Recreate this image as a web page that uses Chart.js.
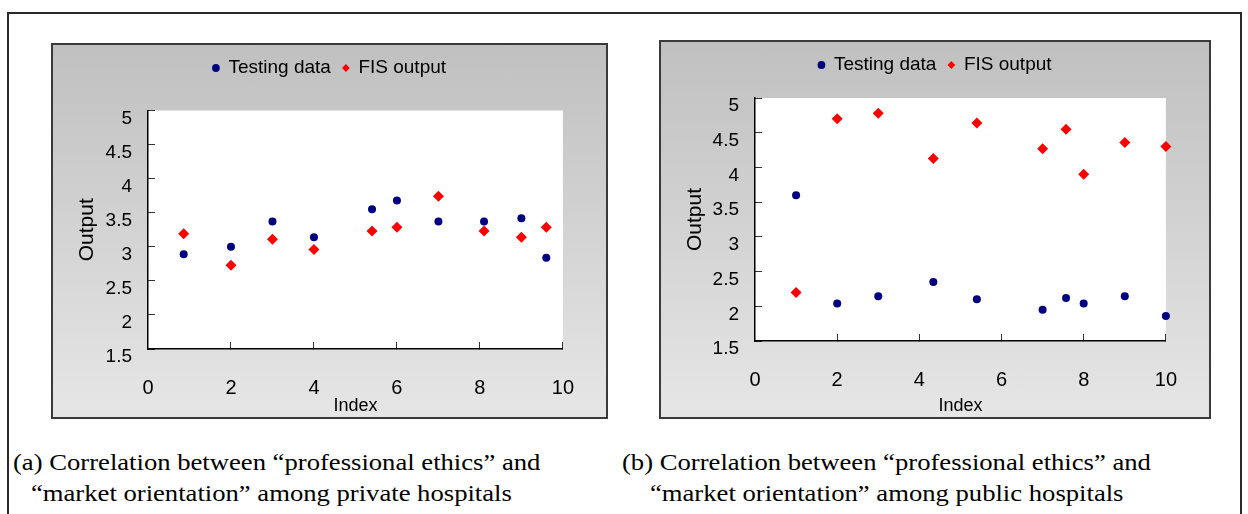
<!DOCTYPE html>
<html>
<head>
<meta charset="utf-8">
<script src="https://cdn.jsdelivr.net/npm/chart.js@4.4.1/dist/chart.umd.min.js"></script>
<style>
  body { margin: 0; background: #fff; width: 1248px; height: 514px; overflow: hidden; position: relative; }
  .frame { position: absolute; left: 7px; top: 12px; width: 1231px; height: 520px; border: 2px solid #2a2a2a; border-bottom: none; }
  .panel { position: absolute; box-sizing: border-box; border: 2px solid #3a3a3a; background: linear-gradient(#c0c0c0, #e6e6e6); }
  canvas { position: absolute; }
  .cap { position: absolute; font-family: "Liberation Serif", "Times New Roman", serif; font-size: 24px; line-height: 31px;
         color: #000; white-space: nowrap; transform: scaleX(1.11); transform-origin: 0 0; }
</style>
</head>
<body>
<div class="frame"></div>

<div class="panel" style="left:51px; top:43px; width:557px; height:376px;"></div>
<canvas id="chartA" width="557" height="383" style="left:51px; top:36px;"></canvas>

<div class="panel" style="left:659px; top:40px; width:552px; height:379px;"></div>
<canvas id="chartB" width="552" height="386" style="left:659px; top:33px;"></canvas>

<div class="cap" style="left:13px; top:447px;">(a) Correlation between “professional ethics” and</div>
<div class="cap" style="left:31px; top:478px;">“market orientation” among private hospitals</div>
<div class="cap" style="left:622px; top:447px;">(b) Correlation between “professional ethics” and</div>
<div class="cap" style="left:650px; top:478px;">“market orientation” among public hospitals</div>

<script>
// Two scatter panels: testing data vs FIS output, private (a) and public (b) hospitals.

const seriesNames = ["Testing data", "FIS output"];

// (a) private hospitals
const privIndex   = [0.86, 2, 3, 4, 5.4, 6, 7, 8.1, 9, 9.6];
const privTesting = [2.89, 3.0, 3.37, 3.14, 3.55, 3.68, 3.37, 3.37, 3.42, 2.84];
const privFis     = [3.19, 2.73, 3.11, 2.96, 3.23, 3.285, 3.74, 3.23, 3.14, 3.285];

// (b) public hospitals
const pubIndex   = [1, 2, 3, 4.34, 5.4, 7, 7.57, 8, 9, 10];
const pubTesting = [3.60, 2.04, 2.145, 2.35, 2.10, 1.95, 2.12, 2.04, 2.145, 1.86];
const pubFis     = [2.20, 4.70, 4.78, 4.13, 4.64, 4.27, 4.55, 3.90, 4.36, 4.30];

const xRange = [0, 10];
const xStep = 2;
const yRange = [1.5, 5];
const yStep = 0.5;

const BLUE = "#000080";
const RED = "#ff0000";
const SANS = "'Liberation Sans', Arial, sans-serif";

Chart.defaults.font.family = SANS;
Chart.defaults.color = "#000";

// white plot area on top of the grey panel
const plotBg = {
  id: "plotBg",
  beforeDraw(chart) {
    const a = chart.chartArea;
    const c = chart.ctx;
    c.save();
    c.fillStyle = "#fff";
    c.fillRect(a.left, a.top, a.right - a.left, a.bottom - a.top);
    c.restore();
  },
};

function hideZero(ctx) {
  return ctx.tick && ctx.tick.value === 0 ? "rgba(0,0,0,0)" : "#333";
}

function buildChart(canvasId, xs, testing, fis, fit) {
  const pts = (ys) => xs.map((x, i) => ({ x, y: ys[i] }));
  return new Chart(document.getElementById(canvasId), {
    type: "scatter",
    plugins: [plotBg],
    data: {
      datasets: [
        { label: seriesNames[0], data: pts(testing), xAxisID: "x", yAxisID: "y",
          pointStyle: "circle", pointRadius: 4, pointHoverRadius: 4,
          backgroundColor: BLUE, borderColor: BLUE, borderWidth: 0, clip: false },
        { label: seriesNames[1], data: pts(fis), xAxisID: "x", yAxisID: "y",
          pointStyle: "rectRot", pointRadius: 5.5, pointHoverRadius: 5.5,
          backgroundColor: RED, borderColor: RED, borderWidth: 0, clip: false },
      ],
    },
    options: {
      responsive: false,
      animation: false,
      devicePixelRatio: 1,
      layout: { padding: { top: fit.legendTop, left: 0, right: 0, bottom: 0 } },
      plugins: {
        tooltip: { enabled: false },
        legend: {
          position: "top",
          labels: { usePointStyle: true, boxWidth: 6, boxHeight: 5.5, padding: 12,
                    color: "#000", font: { size: 19 } },
        },
      },
      scales: {
        x: {
          type: "linear", position: "bottom", min: xRange[0], max: xRange[1],
          ticks: { stepSize: xStep, padding: 34, color: "#000", font: { size: 20 }, maxRotation: 0, autoSkip: false },
          grid: { drawOnChartArea: false, drawTicks: true, tickLength: -7, tickColor: hideZero, tickWidth: 1 },
          border: { display: true, color: "#000", width: 1.5 },
          title: { display: true, text: "Index", color: "#000", font: { size: 18 }, padding: { top: 0, bottom: 2 } },
          afterFit: (s) => { s.height = fit.xHeight; },
        },
        y: {
          type: "linear", position: "left", min: yRange[0], max: yRange[1],
          ticks: { stepSize: yStep, padding: 23, labelOffset: 8, color: "#000", font: { size: 19 },
                   callback: (v) => String(Math.round(v * 10) / 10) },
          grid: { drawOnChartArea: false, drawTicks: true, tickLength: -7, tickColor: "#333", tickWidth: 1 },
          border: { display: true, color: "#000", width: 1.5 },
          title: { display: true, text: "Output", color: "#000", font: { size: 21 }, padding: { top: 23.4, bottom: 0 } },
          afterFit: (s) => { s.width = fit.yWidth; },
        },
        // empty spacer axes: gap under the legend and right margin of the plot
        padTop: {
          type: "linear", axis: "x", position: "top", display: true,
          ticks: { display: false }, grid: { display: false }, border: { display: false },
          afterFit: (s) => { s.height = fit.topGap; },
        },
        padRight: {
          type: "linear", axis: "y", position: "right", display: true,
          ticks: { display: false }, grid: { display: false }, border: { display: false },
          afterFit: (s) => { s.width = fit.rightGap; },
        },
      },
    },
  });
}

buildChart("chartA", privIndex, privTesting, privFis,
  { legendTop: 10.5, topGap: 23, yWidth: 97, rightGap: 44.5, xHeight: 70 });
buildChart("chartB", pubIndex, pubTesting, pubFis,
  { legendTop: 10.5, topGap: 13.5, yWidth: 96, rightGap: 44.6, xHeight: 78 });
</script>
</body>
</html>
